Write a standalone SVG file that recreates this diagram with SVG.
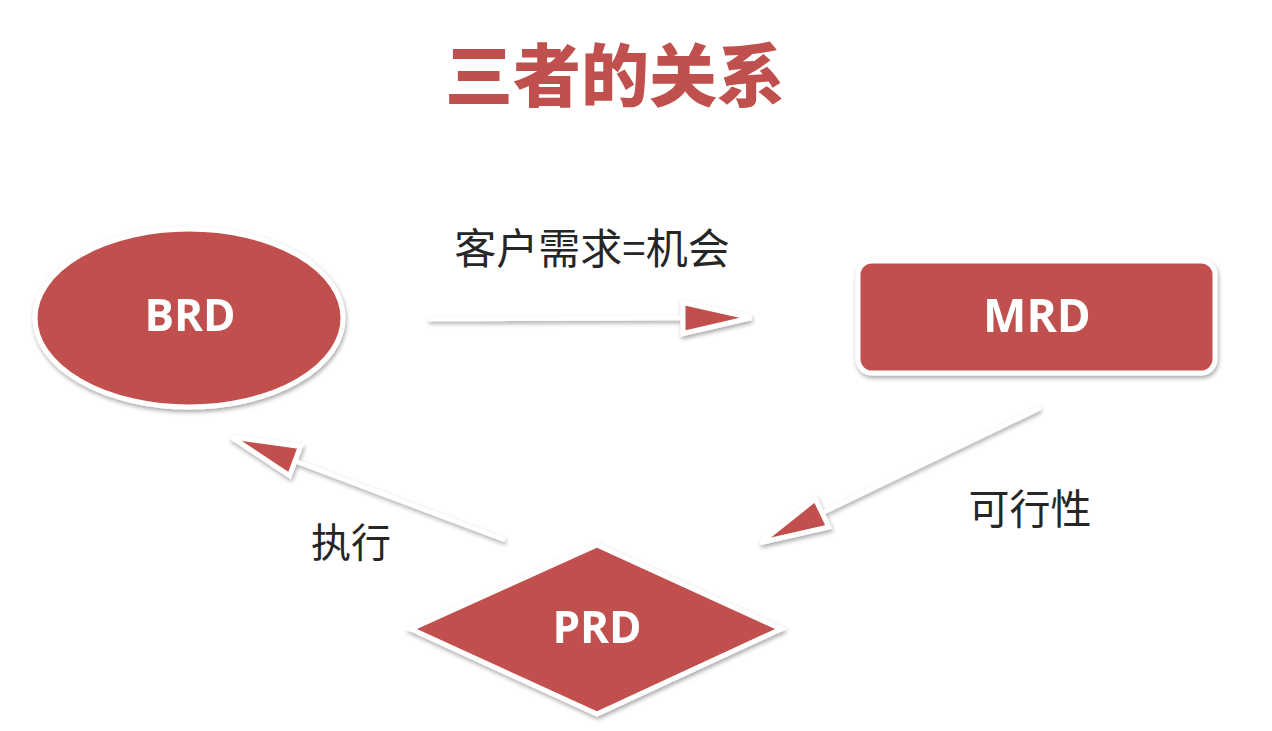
<svg xmlns="http://www.w3.org/2000/svg" width="1272" height="731" viewBox="0 0 1272 731">
<style>
.shape{fill:#C0504D;stroke:#FFFFFF;stroke-width:5}
.nodetext{font-family:"Open Sans","Noto Sans",sans-serif;font-weight:700;fill:#FFFFFF;text-anchor:middle}
.label{font-family:"Noto Sans CJK SC",sans-serif;fill:#262626;text-anchor:middle}
.title{font-family:"Noto Sans CJK SC",sans-serif;font-weight:900;fill:#C0504D;text-anchor:middle;font-size:68px}
.conn{stroke:#FFFFFF;stroke-width:4.5;fill:none;marker-end:url(#arrow)}
</style>
<defs>
<filter id="shadow" x="-20%" y="-20%" width="140%" height="140%">
<feDropShadow dx="1" dy="2.5" stdDeviation="2" flood-color="#000000" flood-opacity="0.35"/>
</filter>
<marker id="arrow" markerUnits="userSpaceOnUse" viewBox="-6 -22 82 44" refX="0" refY="0" markerWidth="82" markerHeight="44" orient="auto" overflow="visible">
<path d="M0,-15.5 L68,0 L0,15.5 Z" fill="#C0504D" stroke="#FFFFFF" stroke-width="5" stroke-linejoin="miter"/>
</marker>
</defs>
<rect width="1272" height="731" fill="#FFFFFF"/>
<text class="title" x="615" y="101">三者的关系</text>
<g id="connectors" filter="url(#shadow)">
<line class="conn" x1="428" y1="319" x2="683" y2="318"/>
<line class="conn" x1="1040" y1="408" x2="822" y2="513"/>
<line class="conn" x1="505" y1="540" x2="295" y2="461"/>
</g>
<g id="BRD" filter="url(#shadow)">
<ellipse class="shape" cx="189" cy="318" rx="154" ry="89"/>
<text class="nodetext" x="190" y="331" font-size="44">BRD</text>
</g>
<g id="MRD" filter="url(#shadow)">
<rect class="shape" x="858" y="261" width="357" height="112" rx="14"/>
<text class="nodetext" x="1037" y="332" font-size="46">MRD</text>
</g>
<g id="PRD" filter="url(#shadow)">
<polygon class="shape" points="597,545 781,629 597,714 411,629"/>
<text class="nodetext" x="597" y="643" font-size="44">PRD</text>
</g>
<text class="label" x="592" y="264" font-size="42">客户需求=机会</text>
<text class="label" x="351" y="557" font-size="40">执行</text>
<text class="label" x="1030" y="524" font-size="41">可行性</text>
</svg>
